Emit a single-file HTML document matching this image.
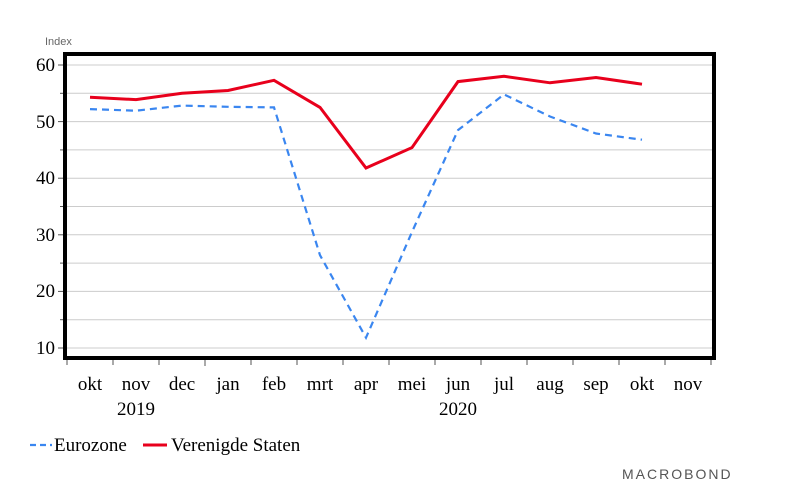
<!DOCTYPE html>
<html><head><meta charset="utf-8"><style>
body{margin:0;background:#fff}
svg text{font-family:"Liberation Serif",serif;fill:#000}
</style></head><body>
<svg width="785" height="496" viewBox="0 0 785 496" xmlns="http://www.w3.org/2000/svg">
<text x="45" y="45" style="font-family:'Liberation Sans',sans-serif;font-size:11px;fill:#666">Index</text>
<g stroke="#ccc" stroke-width="1">
<line x1="66" x2="713" y1="65" y2="65"/><line x1="66" x2="713" y1="93.3" y2="93.3"/>
<line x1="66" x2="713" y1="121.6" y2="121.6"/><line x1="66" x2="713" y1="149.9" y2="149.9"/>
<line x1="66" x2="713" y1="178.2" y2="178.2"/><line x1="66" x2="713" y1="206.5" y2="206.5"/>
<line x1="66" x2="713" y1="234.8" y2="234.8"/><line x1="66" x2="713" y1="263.1" y2="263.1"/>
<line x1="66" x2="713" y1="291.4" y2="291.4"/><line x1="66" x2="713" y1="319.7" y2="319.7"/>
<line x1="66" x2="713" y1="348" y2="348"/>
</g>
<g stroke="#555" stroke-width="1">
<line x1="58" x2="64" y1="65" y2="65"/><line x1="60" x2="64" y1="93.3" y2="93.3"/>
<line x1="58" x2="64" y1="121.6" y2="121.6"/><line x1="60" x2="64" y1="149.9" y2="149.9"/>
<line x1="58" x2="64" y1="178.2" y2="178.2"/><line x1="60" x2="64" y1="206.5" y2="206.5"/>
<line x1="58" x2="64" y1="234.8" y2="234.8"/><line x1="60" x2="64" y1="263.1" y2="263.1"/>
<line x1="58" x2="64" y1="291.4" y2="291.4"/><line x1="60" x2="64" y1="319.7" y2="319.7"/>
<line x1="58" x2="64" y1="348" y2="348"/>
</g>
<g stroke="#555" stroke-width="1">
<line x1="67" x2="67" y1="360" y2="365"/><line x1="113" x2="113" y1="360" y2="365"/><line x1="159" x2="159" y1="360" y2="365"/><line x1="205" x2="205" y1="360" y2="366"/><line x1="251" x2="251" y1="360" y2="365"/><line x1="297" x2="297" y1="360" y2="365"/><line x1="343" x2="343" y1="360" y2="365"/><line x1="389" x2="389" y1="360" y2="365"/><line x1="435" x2="435" y1="360" y2="365"/><line x1="481" x2="481" y1="360" y2="365"/><line x1="527" x2="527" y1="360" y2="365"/><line x1="573" x2="573" y1="360" y2="365"/><line x1="619" x2="619" y1="360" y2="365"/><line x1="665" x2="665" y1="360" y2="365"/><line x1="711" x2="711" y1="360" y2="365"/>
</g>
<rect x="65" y="54" width="649" height="304" fill="none" stroke="#000" stroke-width="4"/>
<g font-size="19" text-anchor="end">
<text x="55" y="71">60</text><text x="55" y="128">50</text><text x="55" y="184">40</text><text x="55" y="241">30</text><text x="55" y="297">20</text><text x="55" y="354">10</text>
</g>
<g font-size="19" text-anchor="middle">
<text x="90" y="390">okt</text><text x="136" y="390">nov</text><text x="182" y="390">dec</text><text x="228" y="390">jan</text><text x="274" y="390">feb</text><text x="320" y="390">mrt</text><text x="366" y="390">apr</text><text x="412" y="390">mei</text><text x="458" y="390">jun</text><text x="504" y="390">jul</text><text x="550" y="390">aug</text><text x="596" y="390">sep</text><text x="642" y="390">okt</text><text x="688" y="390">nov</text>
<text x="136" y="415">2019</text><text x="458" y="415">2020</text>
</g>
<polyline fill="none" stroke="#3a86f0" stroke-width="2.2" stroke-dasharray="7,5" points="90,109.1 136,110.7 182,105.6 228,106.8 274,107.4 320,255.2 366,337.7 412,232 458,130.1 504,94.4 550,116.5 596,133.5 642,139.7"/>
<polyline fill="none" stroke="#e8001c" stroke-width="3" points="90,97.3 136,99.6 182,93.3 228,90.5 274,80.3 320,107.4 366,168 412,147.6 458,81.6 504,76.3 550,82.8 596,77.5 642,84.2"/>
<line x1="30" x2="52" y1="445" y2="445" stroke="#3a86f0" stroke-width="2.2" stroke-dasharray="6,4"/>
<text x="54" y="451" font-size="19">Eurozone</text>
<line x1="143" x2="167" y1="445" y2="445" stroke="#e8001c" stroke-width="3"/>
<text x="171" y="451" font-size="19">Verenigde Staten</text>
<text x="622" y="479" style="font-family:'Liberation Sans',sans-serif;font-size:14px;fill:#555;letter-spacing:2px">MACROBOND</text>
</svg>
</body></html>
